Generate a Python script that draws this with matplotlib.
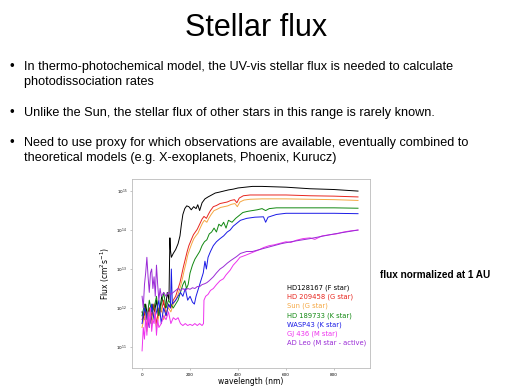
import numpy as np
import matplotlib
matplotlib.use('Agg')
import matplotlib.pyplot as plt

# log10 of flux, wavelength in nm
wl_f = [0, 8, 15, 22, 30, 38, 45, 52, 60, 68, 75, 82, 90, 98, 105, 112, 116, 118, 122, 130, 140, 150, 158, 164, 170, 178,
        186, 195, 205, 215, 225, 232, 240, 250, 262, 275, 290, 305, 320, 340, 360, 380, 400, 430, 460, 500, 550, 600,
        650, 700, 750, 800, 850, 900]
lf_f = [11.9, 11.7, 12.1, 11.8, 12.0, 11.6, 12.1, 11.9, 12.2, 11.8, 12.0, 12.3, 12.1, 12.0, 12.4, 12.2, 13.8, 13.5, 13.3,
        13.4, 13.5, 13.65, 13.85, 14.15, 14.4, 14.55, 14.62, 14.6, 14.52, 14.6, 14.55, 14.65, 14.5, 14.7, 14.8, 14.85,
        14.9, 14.95, 14.97, 15.0, 15.03, 15.05, 15.08, 15.1, 15.12, 15.12, 15.11, 15.1, 15.08, 15.06, 15.05, 15.04,
        15.02, 15.0]

wl_g = [0, 10, 20, 30, 40, 50, 60, 70, 80, 90, 100, 110, 120, 130, 140, 150, 158, 165, 172, 180, 188, 195, 205, 214,
        222, 230, 240, 250, 258, 268, 276, 285, 297, 310, 325, 340, 355, 370, 385, 395, 405, 422, 450, 500, 550, 600,
        700, 800, 900]
lf_g = [11.7, 11.9, 11.5, 12.0, 11.8, 12.1, 11.6, 12.0, 11.9, 12.2, 11.8, 12.1, 12.0, 12.2, 12.3, 12.5, 12.65, 12.85,
        13.05, 13.25, 13.45, 13.6, 13.75, 13.88, 13.95, 14.02, 14.15, 14.28, 14.35, 14.3, 14.4, 14.5, 14.6, 14.63, 14.68,
        14.7, 14.72, 14.76, 14.78, 14.7, 14.82, 14.88, 14.9, 14.9, 14.9, 14.9, 14.88, 14.87, 14.85]

wl_sun = [0, 10, 20, 30, 40, 50, 60, 70, 80, 90, 100, 110, 120, 130, 140, 150, 160, 168, 175, 183, 190, 198, 207, 216,
          225, 233, 242, 252, 260, 270, 278, 288, 300, 312, 327, 342, 357, 372, 387, 397, 408, 425, 450, 500, 550, 600,
          700, 800, 900]
lf_sun = [11.5, 11.8, 11.4, 11.9, 11.6, 11.9, 11.5, 11.8, 12.0, 11.7, 11.9, 12.0, 11.9, 12.1, 12.2, 12.35, 12.55, 12.75,
          12.95, 13.15, 13.35, 13.5, 13.65, 13.78, 13.86, 13.92, 14.05, 14.18, 14.25, 14.2, 14.3, 14.4, 14.5, 14.53,
          14.58, 14.6, 14.62, 14.66, 14.68, 14.6, 14.72, 14.77, 14.79, 14.8, 14.8, 14.8, 14.79, 14.78, 14.76]

wl_k = [0, 10, 20, 30, 40, 50, 60, 70, 80, 90, 100, 110, 120, 130, 140, 150, 160, 170, 178, 185, 192, 200, 210, 220,
        230, 240, 250, 260, 270, 280, 290, 300, 310, 320, 330, 340, 350, 360, 375, 390, 400, 420, 440, 460, 480, 500,
        515, 530, 560, 600, 700, 800, 900]
lf_k = [11.8, 12.1, 11.7, 12.2, 11.9, 12.0, 12.3, 11.8, 12.1, 12.4, 12.0, 12.2, 12.1, 12.0, 12.1, 12.2, 12.4, 12.6,
        12.7, 12.5, 12.6, 12.9, 13.1, 13.25, 13.35, 13.45, 13.6, 13.7, 13.75, 13.9, 13.95, 14.05, 13.95, 14.15, 14.1,
        14.2, 14.05, 14.25, 14.2, 14.3, 14.35, 14.45, 14.48, 14.5, 14.52, 14.55, 14.5, 14.55, 14.57, 14.57, 14.57,
        14.57, 14.56]

wl_w = [0, 10, 20, 30, 40, 50, 60, 70, 80, 90, 100, 110, 118, 122, 126, 140, 150, 160, 170, 180, 190, 200, 210, 218,
        225, 235, 245, 255, 262, 268, 275, 285, 297, 310, 325, 340, 355, 367, 380, 394, 410, 436, 470, 506, 515, 525,
        560, 600, 700, 800, 900]
lf_w = [11.6, 12.0, 11.8, 11.5, 12.1, 11.7, 11.9, 12.2, 11.6, 12.0, 11.8, 12.1, 12.0, 13.0, 12.1, 12.2, 12.3, 12.4,
        12.3, 12.5, 12.2, 12.3, 12.15, 12.1, 12.3, 12.5, 12.7, 12.9, 13.2, 13.0, 13.3, 13.45, 13.6, 13.7, 13.78, 13.85,
        13.95, 14.0, 14.1, 14.17, 14.25, 14.3, 14.33, 14.34, 14.2, 14.33, 14.4, 14.43, 14.43, 14.43, 14.42]

wl_gj = [0, 5, 10, 15, 20, 25, 30, 35, 40, 45, 50, 55, 60, 65, 70, 80, 90, 100, 110, 120, 130, 140, 150, 160, 170, 180,
         190, 200, 210, 220, 230, 240, 250, 256, 258, 265, 275, 285, 297, 310, 325, 339, 350, 367, 380, 395, 408, 430,
         450, 470, 490, 506, 530, 550, 575, 600, 620, 644, 670, 700, 720, 750, 783, 810, 840, 870, 900]
lf_gj = [10.9, 11.5, 11.2, 11.8, 11.3, 11.9, 11.5, 12.0, 11.4, 11.7, 11.6, 11.9, 11.3, 11.7, 11.5, 11.6, 11.8, 11.7,
         11.9, 11.6, 11.75, 11.7, 11.75, 11.6, 11.55, 11.6, 11.55, 11.58, 11.55, 11.6, 11.55, 11.6, 11.55, 11.6, 12.2,
         12.3, 12.35, 12.45, 12.5, 12.6, 12.7, 12.75, 12.85, 12.97, 13.1, 13.2, 13.3, 13.35, 13.4, 13.45, 13.5, 13.55,
         13.6, 13.62, 13.66, 13.7, 13.68, 13.74, 13.78, 13.8, 13.76, 13.85, 13.88, 13.9, 13.95, 13.98, 14.0]

wl_ad = [0, 5, 10, 15, 20, 25, 30, 35, 40, 45, 50, 55, 60, 65, 70, 75, 80, 90, 100, 110, 120, 130, 140, 150, 160, 170,
         180, 190, 200, 210, 220, 230, 240, 250, 260, 270, 280, 297, 310, 325, 339, 355, 370, 394, 410, 436, 460, 490,
         520, 550, 580, 620, 660, 700, 750, 800, 850, 900]
lf_ad = [12.3, 12.0, 12.6, 12.9, 13.3, 12.8, 12.4, 12.9, 13.0, 12.5, 12.8, 12.3, 13.1, 12.6, 12.2, 12.5, 12.3, 12.4,
         12.3, 12.4, 12.35, 12.4, 12.45, 12.5, 12.45, 12.5, 12.45, 12.5, 12.48, 12.52, 12.5, 12.55, 12.55, 12.6, 12.62,
         12.65, 12.7, 12.8, 12.9, 13.0, 13.06, 13.15, 13.22, 13.32, 13.4, 13.45, 13.45, 13.5, 13.55, 13.6, 13.65, 13.7,
         13.74, 13.78, 13.84, 13.9, 13.95, 14.0]

names = ['HD128167 (F star)', 'HD 209458 (G star)', 'Sun (G star)', 'HD 189733 (K star)',
         'WASP43 (K star)', 'GJ 436 (M star)', 'AD Leo (M star - active)']
colors = ['#000000', '#e8261f', '#f5a742', '#118811', '#1a1ae6', '#ee33ee', '#9a2bd6']
waves = [wl_f, wl_g, wl_sun, wl_k, wl_w, wl_gj, wl_ad]
logflux = [lf_f, lf_g, lf_sun, lf_k, lf_w, lf_gj, lf_ad]

fig = plt.figure(figsize=(5.12, 3.86), dpi=100)

fig.text(0.5, 1 - 28/386, 'Stellar flux', ha='center', va='center', fontsize=22, family='Liberation Sans')
bullets = [(67, 'In thermo-photochemical model, the UV-vis stellar flux is needed to calculate'),
           (82, 'photodissociation rates'),
           (113, 'Unlike the Sun, the stellar flux of other stars in this range is rarely known.'),
           (143, 'Need to use proxy for which observations are available, eventually combined to'),
           (158, 'theoretical models (e.g. X-exoplanets, Phoenix, Kurucz)')]
for y, t in bullets:
    fig.text(24/512, 1 - y/386, t, ha='left', va='center', fontsize=9.1, family='Liberation Sans')
for y in [67, 113, 143]:
    fig.text(12/512, 1 - y/386, '\u2022', ha='center', va='center', fontsize=9.5, family='Liberation Sans')
fig.text(380/512, 1 - 275/386, 'flux normalized at 1 AU', ha='left', va='center', fontsize=7.2,
         fontweight='bold', family='Liberation Sans')

ax = fig.add_axes([132/512, 1 - 368/386, 238/512, 189/386])
for w, lf, c, n in zip(waves, logflux, colors, names):
    ax.plot(w, 10**np.array(lf), color=c, lw=0.7, label=n)
ax.set_yscale('log')
ax.set_xlim(-42, 950)
ax.set_ylim(10**10.46, 10**15.31)
ax.set_xticks([0, 200, 400, 600, 800])
ax.set_yticks([1e11, 1e12, 1e13, 1e14, 1e15])
ax.minorticks_off()
ax.tick_params(labelsize=3, length=1.5, width=0.4, color='#999999', pad=2)
for s in ax.spines.values():
    s.set_color('#bbbbbb')
    s.set_linewidth(0.6)
ax.set_xlabel('wavelength (nm)', fontsize=5.5, labelpad=0)
ax.set_ylabel('Flux (cm$^2$s$^{-1}$)', fontsize=5.5, labelpad=3)
leg = ax.legend(loc='upper left', bbox_to_anchor=(0.635, 0.46), frameon=False, fontsize=4.9,
                handlelength=0, handletextpad=0, labelcolor='linecolor', labelspacing=0.4, borderpad=0)
for h in leg.legend_handles:
    h.set_visible(False)

plt.savefig('out.png', dpi=100)
